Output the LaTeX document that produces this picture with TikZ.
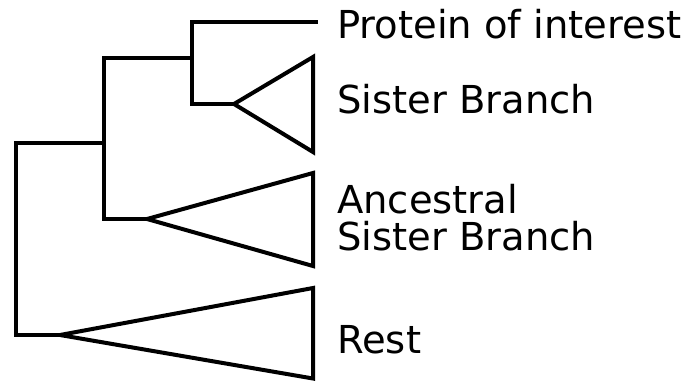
\documentclass[tikz,border=0pt]{standalone}
\usepackage{fontspec}
\setmainfont{DejaVu Sans}
\begin{document}
\begin{tikzpicture}[x=1pt,y=-1pt,
  br/.style={line width=4pt,line join=miter,line cap=rect},
  lab/.style={anchor=base west,inner sep=0pt,font=\fontsize{38.5}{37}\selectfont}]
\useasboundingbox (0,0) rectangle (683,381);
% internal nodes
\coordinate (root) at (16,143);
\coordinate (n1) at (104,57.5);
\coordinate (n2) at (192,21.5);
% leaves / clade apexes
\coordinate (poi) at (316,21.5);
\coordinate (sisA) at (234,104);
\coordinate (ancA) at (147,219);
\coordinate (restA) at (60,335);
% tree
\draw[br] (poi) -- (n2) |- (sisA);
\draw[br] (n2 |- n1) -- (n1) |- (ancA);
\draw[br] (n1 |- root) -- (root) |- (restA);
% clade triangles
\draw[br] (sisA) -- (313,57) -- (313,152) -- cycle;
\draw[br] (ancA) -- (313,173) -- (313,266) -- cycle;
\draw[br] (restA) -- (313,288) -- (313,378.5) -- cycle;
% labels
\node[lab] (l1) at (337,38) {Protein of interest};
\node[lab] (l2) at (337,113) {Sister Branch};
\node[lab] (l3) at (337,213) {Ancestral};
\node[lab] (l4) at (337,250) {Sister Branch};
\node[lab] (l5) at (337,353) {Rest};
\end{tikzpicture}
\end{document}
